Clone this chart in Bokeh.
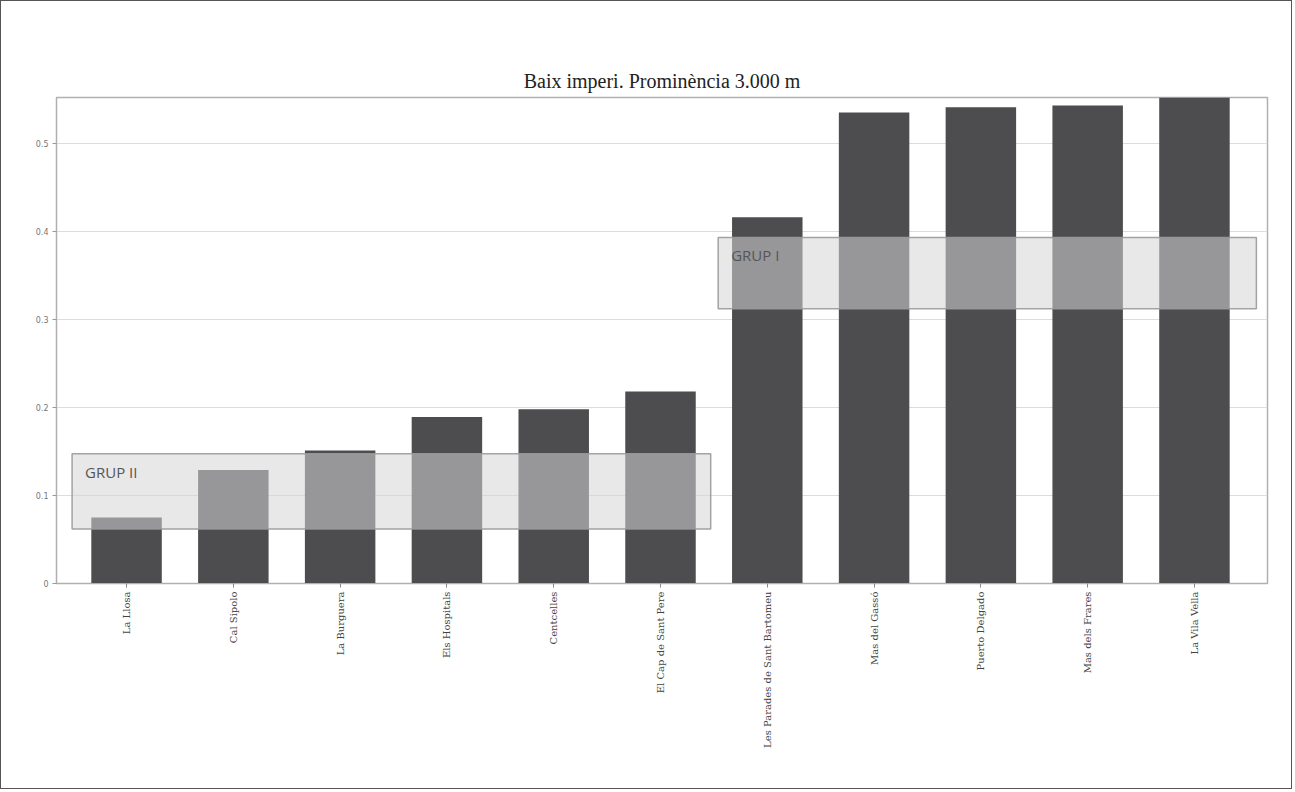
import math
from bokeh.plotting import figure
from bokeh.models import FixedTicker, ColumnDataSource, Range1d
from bokeh.core.properties import value
from bokeh.embed import file_html
from bokeh.resources import INLINE

# ---- data ----
sites = ["La Llosa", "Cal Sipolo", "La Burguera", "Els Hospitals", "Centcelles",
         "El Cap de Sant Pere", "Les Parades de Sant Bartomeu", "Mas del Gassó",
         "Puerto Delgado", "Mas dels Frares", "La Vila Vella"]
values = [0.075, 0.129, 0.151, 0.189, 0.198, 0.218, 0.416, 0.535, 0.541, 0.543, 0.552]
y_ticks = [0, 0.1, 0.2, 0.3, 0.4, 0.5]
y_tick_labels = ["0", "0.1", "0.2", "0.3", "0.4", "0.5"]

group_names = ["GRUP II", "GRUP I"]
group_x0 = [-0.51, 5.54]
group_x1 = [5.47, 10.58]
group_y0 = [0.062, 0.312]
group_y1 = [0.1475, 0.393]

title_text = "Baix imperi. Prominència 3.000 m"

idx = list(range(len(sites)))

p = figure(width=1292, height=789, output_backend="svg", toolbar_location=None,
           x_range=Range1d(-0.656, 10.684), y_range=Range1d(0, 0.552),
           min_border_left=55, min_border_right=26, min_border_top=96, min_border_bottom=207,
           title=title_text)
p.styles = {"border": "1px solid #555"}

p.title.align = "center"
p.title.text_font = "Liberation Serif"
p.title.text_font_size = "20px"
p.title.text_font_style = "normal"
p.title.text_color = "#222222"
p.title.standoff = 11

p.background_fill_color = "white"
p.border_fill_color = "white"
p.outline_line_color = "#b0b0b0"
p.outline_line_width = 1.5

src = ColumnDataSource(dict(x=idx, top=values))
p.vbar(x="x", top="top", width=0.66, bottom=0, source=src,
       fill_color="#4d4d4f", line_color=None)

gsrc = ColumnDataSource(dict(left=group_x0, right=group_x1, bottom=group_y0,
                             top=group_y1, name=group_names))
p.quad(left="left", right="right", bottom="bottom", top="top", source=gsrc,
       fill_color="#d5d5d7", fill_alpha=0.55, line_color="#9a9a9a", line_width=1.5,
       line_alpha=0.9)
p.text(x="left", y="top", text="name", source=gsrc, x_offset=13, y_offset=8,
       text_font=value("Open Sans"), text_font_size="15px", text_color="#555555",
       text_baseline="top", text_align="left")

# axes
p.xaxis.ticker = FixedTicker(ticks=idx)
p.xaxis.major_label_overrides = {i: s for i, s in enumerate(sites)}
p.xaxis.major_label_orientation = math.pi / 2
p.xaxis.major_label_text_font = "DejaVu Serif"
p.xaxis.major_label_text_font_size = "10px"
p.xaxis.major_label_text_color = "#444444"
p.xaxis.axis_line_color = "#b0b0b0"
p.xaxis.major_tick_line_color = "#888888"
p.xaxis.major_tick_in = 0
p.xaxis.major_tick_out = 4
p.xaxis.minor_tick_line_color = None
p.xaxis.major_label_standoff = 4

p.yaxis.ticker = FixedTicker(ticks=y_ticks)
p.yaxis.major_label_overrides = {t: l for t, l in zip(y_ticks, y_tick_labels)}
p.yaxis.major_label_text_font = "DejaVu Sans"
p.yaxis.major_label_text_font_size = "8px"
p.yaxis.major_label_text_color = "#777777"
p.yaxis.axis_line_color = "#b0b0b0"
p.yaxis.major_tick_line_color = "#999999"
p.yaxis.major_tick_in = 0
p.yaxis.major_tick_out = 4
p.yaxis.minor_tick_line_color = None
p.yaxis.major_label_standoff = 4

p.xgrid.grid_line_color = None
p.ygrid.ticker = FixedTicker(ticks=y_ticks)
p.ygrid.grid_line_color = "#dcdcdc"
p.ygrid.grid_line_width = 1

open("out.html", "w").write(file_html(p, INLINE))
